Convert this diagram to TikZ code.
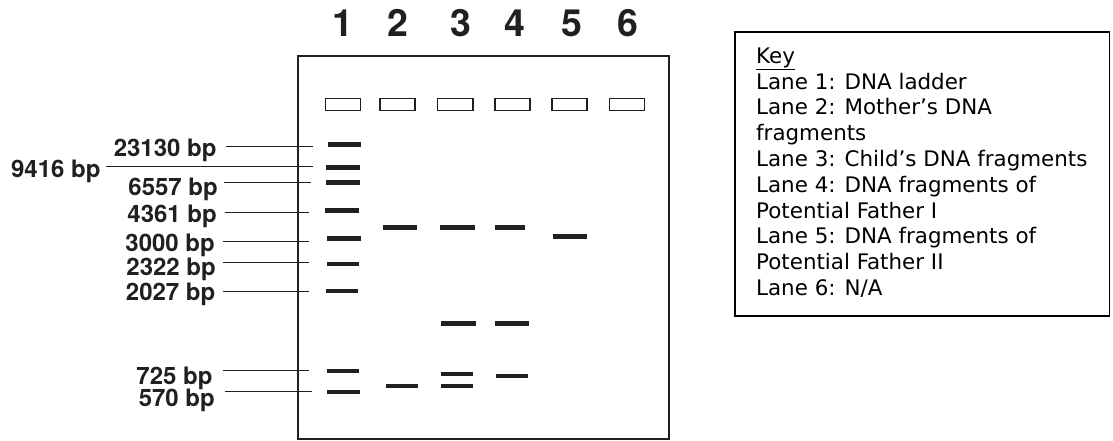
\documentclass[tikz,border=0pt]{standalone}
\usepackage{fontspec}
\newfontfamily\heros{TeX Gyre Heros}
\newfontfamily\dv{DejaVu Sans}
\definecolor{ink}{HTML}{231F20}
\begin{document}
\begin{tikzpicture}[x=1pt,y=-1pt,
  gel/.style={draw=ink,line width=1.7pt},
  well/.style={draw=ink,line width=1.3pt},
  tick/.style={draw=ink,line width=1pt},
  lanenum/.style={text=ink,inner sep=0pt,anchor=base,font=\heros\bfseries\fontsize{37.5}{37.5}\selectfont},
  lbl/.style={text=ink,inner sep=0pt,anchor=base east,font=\heros\bfseries\fontsize{24}{24}\selectfont},
  keytxt/.style={text=black,inner sep=0pt,anchor=base west,font=\dv\fontsize{21.4}{26}\selectfont},
  keybox/.style={draw=black,line width=1.1pt}]
\useasboundingbox (0,0) rectangle (1113,441);
% lane numbers
\foreach \i/\x in {1/343,2/398,3/461,4/515,5/572,6/628}
  \node[lanenum] (n\i) at (\x,36.7) {\i};
% gel
\draw[gel] (298.3,55.7) rectangle (669,439);
% wells
\foreach \i/\a/\b in {1/325.7/360.7,2/380/415,3/437.3/473,4/495/530,5/552/587,6/609.3/644.3}
  \draw[well] (\a,98.3) rectangle (\b,110.7);
% bands
\foreach \a/\b/\y/\t in {
  327.7/361/144.3/5.5, 326/360/167.3/5.5, 326/360/182.7/5.5, 325/359/210.7/5.5,
  327/361/238.7/5.2, 327/359/264/4.3, 326/358/291.3/4.3, 327/359/371.3/4.3, 327/360/391.7/4.3,
  383/417/227.7/5.5, 386/418/385.7/4,
  440/475/227.7/5.5, 441/476/323.3/5.5, 441/473/374.3/4, 441/473/385.7/4,
  495/525/227.7/5.5, 495/529/323.3/5.5, 496/528/375.7/4,
  553/587/236.7/5.2}
  \fill[ink] (\a,\y-\t/2) rectangle (\b,\y+\t/2);
% size labels
\node[lbl] (l23130) at (216.7,156) {23130 bp};
\node[lbl] (l9416) at (100.7,177) {9416 bp};
\node[lbl] (l6557) at (218,195) {6557 bp};
\node[lbl] (l4361) at (217,222.7) {4361 bp};
\node[lbl] (l3000) at (215,251) {3000 bp};
\node[lbl] (l2322) at (216,275) {2322 bp};
\node[lbl] (l2027) at (215.5,300.7) {2027 bp};
\node[lbl] (l725) at (212.7,384) {725 bp};
\node[lbl] (l570) at (215,406.7) {570 bp};
% label lines
\foreach \n/\a/\b/\y in {23130/226/313/146, 9416/106/313/166, 6557/224/311/182, 4361/225/309/212,
  3000/223/309/241.3, 2322/223/309/262, 2027/223/309/291.3, 725/223/309/370.7, 570/225/312/391.3}{
  \coordinate (s\n) at (\a,\y);
  \coordinate (e\n) at (\b,\y);
  \draw[tick] (s\n) -- (e\n);
}
% key
\draw[keybox] (735,32) rectangle (1109.3,316);
\node[keytxt] (k0) at (756,63.3) {\underline{Key}};
\node[keytxt] (k1) at (756,89.1) {Lane 1: DNA ladder};
\node[keytxt] (k2) at (756,114.9) {Lane 2: Mother’s DNA};
\node[keytxt] (k3) at (756,140.7) {fragments};
\node[keytxt] (k4) at (756,166.5) {Lane 3: Child’s DNA fragments};
\node[keytxt] (k5) at (756,192.3) {Lane 4: DNA fragments of};
\node[keytxt] (k6) at (756,218.1) {Potential Father I};
\node[keytxt] (k7) at (756,243.9) {Lane 5: DNA fragments of};
\node[keytxt] (k8) at (756,269.7) {Potential Father II};
\node[keytxt] (k9) at (756,295.5) {Lane 6: N/A};
\end{tikzpicture}
\end{document}
